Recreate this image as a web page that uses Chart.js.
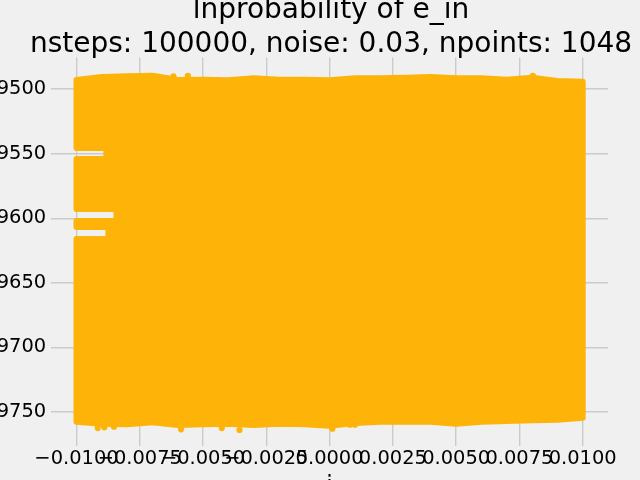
<!DOCTYPE html>
<html><head><meta charset="utf-8">
<script src="https://cdn.jsdelivr.net/npm/chart.js@4"></script>
<style>
html,body{margin:0;padding:0;background:#f0f0f0;overflow:hidden;width:640px;height:480px;}
#wrap{position:absolute;left:0;top:-20px;width:640px;height:520px;}
canvas{display:block;}
</style></head><body>
<div id="wrap"><canvas id="c" width="640" height="520" style="width:640px;height:520px"></canvas></div>
<script>
const titleLines = ['lnprobability of e_in', 'nsteps: 100000, noise: 0.03, npoints: 1048'];
const xAxisLabel = 'i';
const xTickValues = [-0.01, -0.0075, -0.005, -0.0025, 0, 0.0025, 0.005, 0.0075, 0.01];
const yTickValues = [-9750, -9700, -9650, -9600, -9550, -9500];

// envelope of the point cloud
const edgeX = [-0.010,-0.009,-0.008,-0.007,-0.006,-0.005,-0.004,-0.003,-0.002,-0.001,0,
               0.001,0.002,0.003,0.004,0.005,0.006,0.007,0.008,0.009,0.010];
const topEdgeY = [-9493.0,-9490.7,-9490.2,-9489.7,-9493.0,-9492.8,-9493.3,-9491.7,-9492.8,-9492.8,-9493.3,
                  -9491.7,-9491.7,-9491.3,-9490.7,-9491.7,-9491.7,-9492.8,-9491.3,-9493.8,-9494.4];
const bottomEdgeY = [-9757.5,-9759.1,-9759.5,-9758.0,-9760.1,-9759.5,-9759.1,-9760.1,-9759.1,-9759.5,-9760.6,
                     -9758.5,-9757.5,-9757.5,-9757.5,-9759.1,-9757.5,-9757.0,-9756.4,-9756.0,-9754.4];
// empty streaks entering from the left edge
const leftGapUpperY = [-9545.7, -9592.9, -9606.8];
const leftGapLowerY = [-9554.2, -9602.2, -9616.1];
const leftGapDepthX = [-0.00882, -0.00842, -0.00874];
// isolated points sticking out of the cloud
const strayX = [-0.00916,-0.00890,-0.00852,-0.00587,-0.00426,-0.00356,0.00011,0.00080,0.00100,
                -0.00724,-0.00617,-0.00560,0.00803];
const strayY = [-9762.4,-9761.8,-9761.4,-9763.4,-9762.4,-9763.9,-9762.9,-9759.8,-9759.8,
                -9490.2,-9490.2,-9489.9,-9489.9];

const AMBER = '#feb308';

const outline = [];
edgeX.forEach((x, i) => outline.push({x: x, y: topEdgeY[i]}));
for (let i = edgeX.length - 1; i >= 0; i--) outline.push({x: edgeX[i], y: bottomEdgeY[i]});
const order = leftGapLowerY.map((_, i) => i).sort((a, b) => leftGapLowerY[a] - leftGapLowerY[b]);
for (const i of order) {
  outline.push({x: edgeX[0], y: leftGapLowerY[i]});
  outline.push({x: leftGapDepthX[i], y: leftGapLowerY[i]});
  outline.push({x: leftGapDepthX[i], y: leftGapUpperY[i]});
  outline.push({x: edgeX[0], y: leftGapUpperY[i]});
}
outline.push({x: edgeX[0], y: topEdgeY[0]});

const strays = strayX.map((x, i) => ({x: x, y: strayY[i]}));

const minus = s => s.replace('-', '\u2212');
const font = 'DejaVu Sans';

// widen the title box so the long second line is not squeezed, centred like the reference
const titleBoxPlugin = {
  id: 'titleBox',
  afterLayout(chart) {
    const t = chart.titleBlock;
    if (t) { t.left = 331 - 330; t.right = 331 + 330; }
  }
};

new Chart(document.getElementById('c'), {
  type: 'scatter',
  plugins: [titleBoxPlugin],
  data: {
    datasets: [
      {
        data: outline, showLine: true, fill: 'shape', tension: 0,
        backgroundColor: AMBER, borderColor: AMBER, borderWidth: 6,
        borderJoinStyle: 'round', borderCapStyle: 'round',
        pointRadius: 0, pointHoverRadius: 0, clip: false
      },
      {
        data: strays, backgroundColor: AMBER, borderColor: AMBER, borderWidth: 0,
        pointRadius: 3.1, pointHoverRadius: 3.1
      }
    ]
  },
  options: {
    responsive: false, animation: false, devicePixelRatio: 1,
    layout: {padding: {left: 0, right: 32, top: 0, bottom: 0}},
    plugins: {
      legend: {display: false}, tooltip: {enabled: false},
      title: {
        display: true, text: titleLines, color: '#000',
        font: {family: font, size: 28, weight: 'normal', lineHeight: 1.2},
        padding: {top: 14.4, bottom: -4}
      }
    },
    scales: {
      x: {
        type: 'linear', min: -0.011, max: 0.011,
        afterBuildTicks: s => { s.ticks = xTickValues.map(v => ({value: v})); },
        afterFit: s => { s.height = 53.6; s.paddingLeft = 0; s.paddingRight = 0; },
        grid: {color: '#cbcbcb', lineWidth: 1.4, drawTicks: false},
        border: {display: false},
        ticks: {
          autoSkip: false, maxRotation: 0, minRotation: 0, padding: 1, color: '#000',
          font: {family: font, size: 19.44},
          callback: v => minus(Math.abs(v) < 1e-12 ? '0.0000' : Number(v).toFixed(4))
        },
        title: {display: true, text: xAxisLabel, color: '#000',
                font: {family: font, size: 23.3}, padding: {top: 0, bottom: 0}}
      },
      y: {
        type: 'linear', min: -9776.6, max: -9475.7,
        afterBuildTicks: s => { s.ticks = yTickValues.map(v => ({value: v})); },
        afterFit: s => { s.width = 51.2; s.paddingTop = 0; s.paddingBottom = 0; },
        grid: {color: '#cbcbcb', lineWidth: 1.4, drawTicks: false},
        border: {display: false},
        ticks: {
          autoSkip: false, padding: 5, color: '#000',
          font: {family: font, size: 19.44},
          callback: v => minus(String(v))
        }
      }
    }
  }
});
</script>
</body></html>
